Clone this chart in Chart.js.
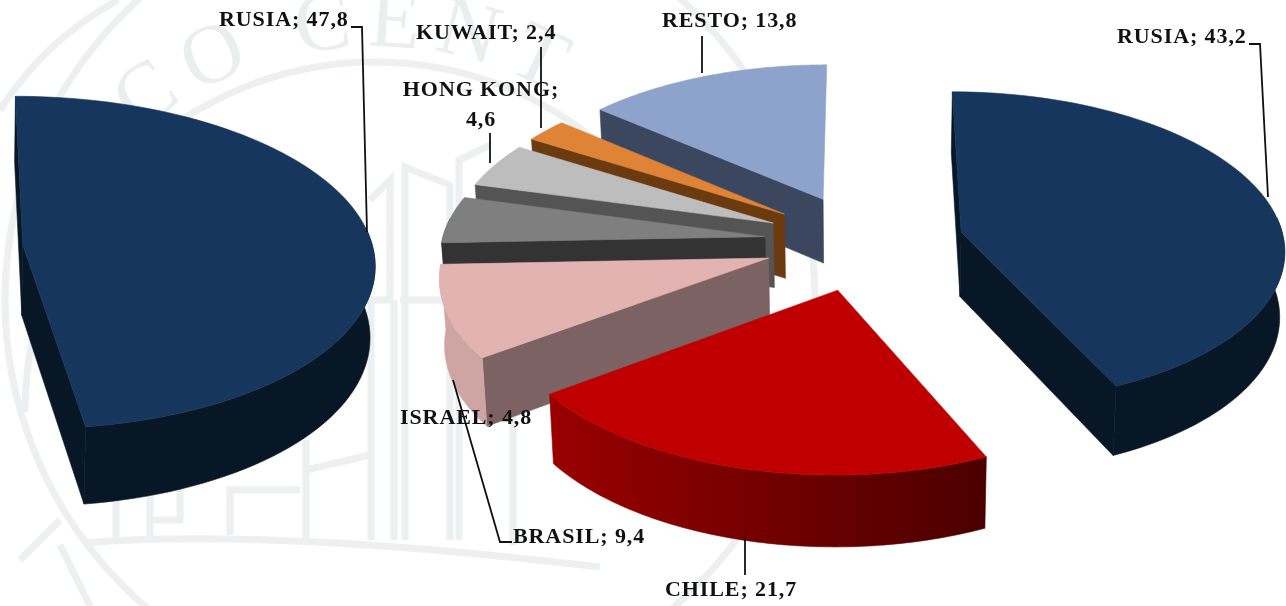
<!DOCTYPE html>
<html lang="es">
<head>
<meta charset="utf-8">
<title>RUSIA</title>
<script src="https://cdn.jsdelivr.net/npm/chart.js@4/dist/chart.umd.min.js"></script>
<style>
    html, body { margin: 0; background: #fff; }
    #stage { position: relative; width: 1286px; height: 606px; overflow: hidden; }
    #stage svg, #stage canvas { position: absolute; }
    #pie-left { left: -552px; top: -153px; }
    #pie-main { left: 364px; top: -158px; }
</style>
</head>
<body>
<div id="stage">
    <!-- faint seal behind the pies -->
    <svg width="1286" height="606" viewBox="0 0 1286 606" fill="none" stroke="#ecf0f0" stroke-width="7">
        <defs><path id="seal-text" d="M 108 162 A 365 365 0 0 1 700 246"></path></defs>
        <circle cx="410" cy="300" r="405"></circle>
        <path d="M 0 110 Q 45 40 118 0"></path>
        <path d="M 25 412 A 350 350 0 0 1 725 412"></path>
        <path d="M 84 543 Q 268 528 600 567"></path>
        <path d="M 116 540 V 300 M 150 540 V 270 M 306 540 V 440 M 371 540 V 300 H 390 V 180 L 370 200 M 394 540 V 300 M 405 540 V 167 L 450 185 V 540 M 459 540 V 160 L 490 145 M 513 545 V 300 M 400 300 H 460"></path>
        <path d="M 150 520 H 180 V 480 M 230 535 V 490 H 300 M 306 470 L 370 455"></path>
        <path d="M 60 545 L 90 606 M 20 560 L 60 520"></path>
        <text font-family="Liberation Serif" font-size="84" fill="#e9eeee" stroke="none" letter-spacing="14">
            <textPath href="#seal-text">ICO CENT</textPath>
        </text>
    </svg>
    <canvas id="pie-left" width="1000" height="800"></canvas>
    <canvas id="pie-main" width="1000" height="800"></canvas>
</div>
<script>
(function () {
    'use strict';

    var mainNames = ['RUSIA', 'CHILE', 'BRASIL', 'ISRAEL', 'HONG KONG', 'KUWAIT', 'RESTO'];
    var mainValues = [43.2, 21.7, 9.4, 4.8, 4.6, 2.4, 13.8];
    var leftNames = ['RUSIA', ''];
    var leftValues = [47.8, 52.2];

    var mainTops = ['#17365d', '#c00000', '#e3b3b2', '#7f7f7f', '#bdbdbd', '#df8437', '#8ea3cb'];
    var mainFaces = ['#081726', '#7a0000', '#7c6262', '#333333', '#545454', '#6b3a0f', '#3b475f'];
    var mainRimsFrom = ['#081726', '#4b0000', '#cfa5a4', '#333333', '#545454', '#6b3a0f', '#3b475f'];
    var mainRimsTo = ['#081726', '#9a0000', '#cfa5a4', '#333333', '#545454', '#6b3a0f', '#3b475f'];

    // where each label and its leader line sit on the page
    var mainSpots = [
        { x: 1117, y: 37, lines: [[1249, 44], [1260, 44], [1268, 197]] },
        { x: 665, y: 590, lines: [[745, 537], [745, 575]] },
        { x: 513, y: 537, lines: [[453, 380], [500, 542], [512, 542]] },
        { x: 400, y: 418, lines: [] },
        { x: 400, y: 90, wrap: true, lines: [[490, 133], [490, 163]] },
        { x: 416, y: 33, lines: [[541, 47], [541, 128]] },
        { x: 662, y: 21, lines: [[702, 36], [702, 73]] }
    ];
    var leftSpots = [{ x: 219, y: 20, lines: [[351, 27], [362, 27], [367, 232]] }];

    function fillPoly(ctx, pts, color) {
        ctx.beginPath();
        pts.forEach(function (p, i) {
            if (i === 0) ctx.moveTo(p[0], p[1]);
            else ctx.lineTo(p[0], p[1]);
        });
        ctx.closePath();
        ctx.fillStyle = color;
        ctx.strokeStyle = color;
        ctx.lineWidth = 0.6;
        ctx.fill();
        ctx.stroke();
    }

    function drawSlice(ctx, arc, colors, o) {
        var R = arc.outerRadius;
        var mid = (arc.startAngle + arc.endAngle) / 2;
        var ou = Math.cos(mid) * arc.options.offset;
        var ov = Math.sin(mid) * arc.options.offset;

        // tilted plate seen in perspective: nearer points come out larger
        function project(p, low) {
            var w = 1 - o.perspective * p[1] / o.referenceRadius;
            var s = low ? o.shrink : 1;
            return [
                arc.x + s * p[0] / w,
                arc.y + s * o.tilt * p[1] / w + (low ? o.depth / w : 0)
            ];
        }
        function rimPoint(a) {
            return [ou + Math.cos(a) * R, ov + Math.sin(a) * R];
        }
        function radialFace(p) {
            return [project(apex), project(p), project(p, true), project(apex, true)];
        }

        var steps = 90;
        var apex = [ou, ov];
        var rim = [];
        var front = [];
        for (var i = 0; i <= steps; i++) {
            var a = arc.startAngle + (arc.endAngle - arc.startAngle) * i / steps;
            rim.push(rimPoint(a));
            if (Math.sin(a) > -0.12) front.push(rim[i]);
        }

        // only the walls that turn towards the viewer
        if (-Math.cos(arc.startAngle) >= -0.001) fillPoly(ctx, radialFace(rim[0]), colors.face);
        if (Math.cos(arc.endAngle) > 0.001) fillPoly(ctx, radialFace(rim[steps]), colors.face);

        if (front.length > 1) {
            var wall = front.map(function (p) {
                return project(p);
            });
            front.slice().reverse().forEach(function (p) {
                wall.push(project(p, true));
            });
            var first = project(front[0]);
            var last = project(front[front.length - 1]);
            var shade = ctx.createLinearGradient(first[0], 0, last[0], 0);
            shade.addColorStop(0, colors.rimFrom);
            shade.addColorStop(1, colors.rimTo);
            fillPoly(ctx, wall, shade);
        }

        fillPoly(ctx, [project(apex)].concat(rim.map(function (p) {
            return project(p);
        })), colors.top);
    }

    var pie3d = {
        id: 'pie3d',
        beforeDatasetDraw: function (chart, args, o) {
            var ds = chart.data.datasets[args.index];
            var slices = args.meta.data.map(function (arc, i) {
                return {
                    arc: arc,
                    colors: {
                        top: ds.backgroundColor[i],
                        face: ds.faceColor[i],
                        rimFrom: ds.rimFrom[i],
                        rimTo: ds.rimTo[i]
                    },
                    depth: Math.sin((arc.startAngle + arc.endAngle) / 2)
                };
            }).filter(function (s) {
                return s.colors.top !== 'transparent';
            });
            slices.sort(function (a, b) {
                return a.depth - b.depth;
            });
            slices.forEach(function (s) {
                drawSlice(chart.ctx, s.arc, s.colors, o);
            });
            return false;
        },
        afterDraw: function (chart, args, o) {
            var ctx = chart.ctx;
            var dx = chart.canvas.offsetLeft;
            var dy = chart.canvas.offsetTop;
            var values = chart.data.datasets[0].data;
            ctx.save();
            ctx.translate(-dx, -dy);
            ctx.fillStyle = '#111';
            ctx.strokeStyle = '#111';
            ctx.lineWidth = 1.8;
            ctx.font = 'bold 22px "Liberation Serif"';
            ctx.letterSpacing = '0.9px';
            ctx.textBaseline = 'middle';
            o.spots.forEach(function (spot, i) {
                var name = chart.data.labels[i];
                var value = String(values[i]).replace('.', ',');
                if (spot.wrap) {
                    ctx.textAlign = 'center';
                    ctx.fillText(name + ';', spot.x + 81, spot.y);
                    ctx.fillText(value, spot.x + 81, spot.y + 30);
                } else {
                    ctx.textAlign = 'left';
                    ctx.fillText(name + '; ' + value, spot.x, spot.y);
                }
                if (spot.lines.length) {
                    ctx.beginPath();
                    spot.lines.forEach(function (p, k) {
                        if (k === 0) ctx.moveTo(p[0], p[1]);
                        else ctx.lineTo(p[0], p[1]);
                    });
                    ctx.stroke();
                }
            });
            ctx.restore();
        }
    };

    function buildPie(id, names, values, radius, look, spots, colors) {
        return new Chart(document.getElementById(id), {
            type: 'pie',
            data: {
                labels: names,
                datasets: [{
                    data: values,
                    backgroundColor: colors.tops,
                    faceColor: colors.faces,
                    rimFrom: colors.rimsFrom,
                    rimTo: colors.rimsTo,
                    borderWidth: 0,
                    offset: look.explode
                }]
            },
            options: {
                responsive: false,
                animation: false,
                radius: radius,
                events: [],
                plugins: {
                    legend: { display: false },
                    tooltip: { enabled: false },
                    pie3d: {
                        tilt: look.tilt,
                        perspective: 0.1,
                        referenceRadius: 323,
                        depth: look.depth,
                        shrink: 0.988,
                        spots: spots
                    }
                }
            },
            plugins: [pie3d]
        });
    }

    buildPie('pie-left', leftNames, leftValues, 350, { tilt: 0.471, explode: 75, depth: 71 }, leftSpots, {
        tops: ['#17365d', 'transparent'],
        faces: ['#081726', '#ffffff'],
        rimsFrom: ['#081726', '#ffffff'],
        rimsTo: ['#081726', '#ffffff']
    });

    buildPie('pie-main', mainNames, mainValues, 323, { tilt: 0.483, explode: 100, depth: 65 }, mainSpots, {
        tops: mainTops,
        faces: mainFaces,
        rimsFrom: mainRimsFrom,
        rimsTo: mainRimsTo
    });
})();
</script>
</body>
</html>
